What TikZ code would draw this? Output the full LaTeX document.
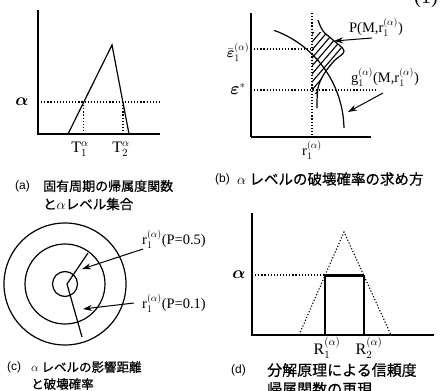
\documentclass[tikz,border=0pt]{standalone}
\usepackage{amsmath}
\usepackage{fontspec}
\setmainfont{Liberation Serif}
\newfontfamily\cjk{Noto Sans CJK JP}[FakeBold=0.6]
\newfontfamily\capsans{Liberation Sans}
\usetikzlibrary{arrows.meta}
\begin{document}
\begin{tikzpicture}[x=1pt,y=-1pt,
  ax/.style={line width=1.4pt},
  curve/.style={line width=1.2pt},
  dots/.style={line width=1.1pt, dash pattern=on 1.2pt off 1.9pt},
  lbl/.style={inner sep=0pt, font=\fontsize{14.5}{14.5}\selectfont},
  albl/.style={inner sep=0pt, font=\fontsize{16}{16}\selectfont},
  arr/.style={line width=1pt, -{Stealth[length=9pt,width=6pt]}},
  capt/.style={inner sep=0pt, anchor=west},
]
\useasboundingbox (0,0) rectangle (448,391);

% ---------------- (a) ----------------
\coordinate (aO) at (38,134);
\coordinate (aTop) at (38,10);
\coordinate (aEnd) at (160,134);
\draw[ax] (aTop) -- (aO) -- (aEnd);
\coordinate (aL) at (68,134);
\coordinate (aP) at (112,45);
\coordinate (aR) at (129,134);
\draw[curve] (aL) -- (aP) -- (aR);
\coordinate (aY) at (38,102);
\coordinate (aYe) at (160,102);
\draw[dots] (aY) -- (aYe);
\coordinate (aI1) at (83.8,102);
\coordinate (aB1) at (83.8,134);
\coordinate (aI2) at (123,102);
\coordinate (aB2) at (123,134);
\draw[dots] (aI1) -- (aB1);
\draw[dots] (aI2) -- (aB2);
\node[albl] (aAlpha) at (22,102) {$\boldsymbol{\alpha}$};
\node[lbl,font=\fontsize{16}{16}\selectfont] (aT1) at (80,149) {$\mathrm{T}_1^{\alpha}$};
\node[lbl,font=\fontsize{16}{16}\selectfont] (aT2) at (121,149) {$\mathrm{T}_2^{\alpha}$};
\node[capt,font=\capsans\fontsize{12}{12}\selectfont] (aCapL) at (15,186) {(a)};
\node[capt,font=\cjk\fontsize{13}{13}\selectfont] (aCap1) at (43,186) {固有周期の帰属度関数};
\node[capt,font=\cjk\fontsize{13.5}{13.5}\selectfont] (aCap2) at (43,204) {と$\alpha$レベル集合};

% ---------------- (b) ----------------
\coordinate (bO) at (251,137);
\coordinate (bTop) at (251,13);
\coordinate (bEnd) at (371,137);
\draw[ax] (bTop) -- (bO);
\draw[line width=1.8pt] (bO) -- (bEnd);
\coordinate (bV1) at (312,13);
\coordinate (bV2) at (312,137);
\draw[dots] (bV1) -- (bV2);
\coordinate (bE1) at (251,49);
\coordinate (bE1e) at (314,49);
\draw[dots] (bE1) -- (bE1e);
\coordinate (bE2) at (251,90);
\coordinate (bE2e) at (377,90);
\draw[dots] (bE2) -- (bE2e);
% hatch
\begin{scope}
  \clip (312,32) rectangle (350,93);
  \clip (312,18) -- plot[smooth,tension=0.6] coordinates {(318,20) (323,31) (333,40) (344,51) (334,61) (324,74) (318,88) (317,108)} -- (312,108) -- cycle;
  \foreach \k in {0,...,14} \draw[line width=1.1pt] (300,{24+8*\k}) -- ++(60,-70);
\end{scope}
% pdf curve
\draw[curve] plot[smooth,tension=0.6] coordinates {(318,20) (323,31) (333,40) (344,51) (334,61) (324,74) (318,88) (317,108)};
% g arc
\draw[curve] plot[domain=-70:-1,samples=50] ({238+106*cos(\x)},{130+106*sin(\x)});
\node[lbl] (bEps1) at (238,52) {$\bar{\boldsymbol{\varepsilon}}_1^{(\alpha)}$};
\node[albl] (bEps2) at (238,89) {$\boldsymbol{\varepsilon}^{*}$};
\node[lbl] (bR) at (312,150) {$\mathrm{r}_1^{(\alpha)}$};
\node[lbl] (bP) at (376,27) {P(M,$\mathrm{r}_1^{(\alpha)}$)};
\node[lbl] (bG) at (385,77) {$\mathrm{g}_1^{(\alpha)}$(M,$\mathrm{r}_1^{(\alpha)}$)};
\coordinate (bPs) at (372,38);
\coordinate (bPt) at (334,41);
\draw[arr] (bPs) -- (bPt);
\coordinate (bGs) at (383,93);
\coordinate (bGt) at (348,112);
\draw[arr] (bGs) -- (bGt);
\node[capt,font=\capsans\fontsize{12}{12}\selectfont] (bCapL) at (215,179) {(b)};
\node[capt,font=\cjk\fontsize{14.5}{14.5}\selectfont] (bCap1) at (237,179) {$\alpha$ レベルの破壊確率の求め方};

% ---------------- (c) ----------------
\coordinate (cC) at (65,284);
\draw[curve] (cC) circle[radius=61];
\draw[curve] (cC) circle[radius=40];
\draw[curve] (cC) circle[radius=12.5];
\coordinate (cU) at (88,253);
\coordinate (cJ) at (67,284);
\coordinate (cD) at (82,337);
\draw[curve] (cU) -- (cJ) -- (cD);
\node[lbl] (cL1) at (174,239) {$\mathrm{r}_1^{(\alpha)}$(P=0.5)};
\node[lbl] (cL2) at (174,303) {$\mathrm{r}_1^{(\alpha)}$(P=0.1)};
\coordinate (cA1s) at (143,249);
\coordinate (cA1t) at (82,269);
\draw[arr] (cA1s) -- (cA1t);
\coordinate (cA2s) at (134,303);
\coordinate (cA2t) at (83,309);
\draw[arr] (cA2s) -- (cA2t);
\node[capt,font=\capsans\fontsize{12}{12}\selectfont] (cCapL) at (7,367) {(c)};
\node[capt,font=\cjk\fontsize{12.5}{12.5}\selectfont] (cCap1) at (31,367) {$\alpha$ レベルの影響距離};
\node[capt,font=\cjk\fontsize{12.5}{12.5}\selectfont] (cCap2) at (31,384) {と破壊確率};

% ---------------- (d) ----------------
\coordinate (dO) at (252,335);
\coordinate (dTop) at (252,213);
\coordinate (dEnd) at (434,335);
\draw[ax] (dTop) -- (dO) -- (dEnd);
\coordinate (dL) at (299,335);
\coordinate (dP) at (344,232);
\coordinate (dR) at (391,335);
\draw[dots] (dL) -- (dP) -- (dR);
\coordinate (dY) at (252,275);
\coordinate (dI1) at (325,275);
\coordinate (dI2) at (364,275);
\coordinate (dB1) at (325,335);
\coordinate (dB2) at (364,335);
\draw[dots] (dY) -- (dI1);
\draw[line width=2.2pt] (dB1) -- (dI1);
\draw[line width=2.2pt] (dB2) -- (dI2);
\draw[line width=3pt] (dI1) -- (dI2);
\node[albl] (dAlpha) at (239,275) {$\boldsymbol{\alpha}$};
\node[lbl,font=\fontsize{16}{16}\selectfont] (dR1) at (327,348) {$\mathrm{R}_1^{(\alpha)}$};
\node[lbl,font=\fontsize{16}{16}\selectfont] (dR2) at (369,348) {$\mathrm{R}_2^{(\alpha)}$};
\node[capt,font=\capsans\fontsize{12}{12}\selectfont] (dCapL) at (231,370) {(d)};
\node[capt,font=\cjk\fontsize{15}{15}\selectfont] (dCap1) at (267,370) {分解原理による信頼度};
\node[capt,font=\cjk\fontsize{15}{15}\selectfont] (dCap2) at (267,389) {帰属関数の再現};

% top right
\node[inner sep=0pt, anchor=base, font=\fontsize{20}{20}\selectfont] (num) at (426,3) {(1)};
\end{tikzpicture}
\end{document}
